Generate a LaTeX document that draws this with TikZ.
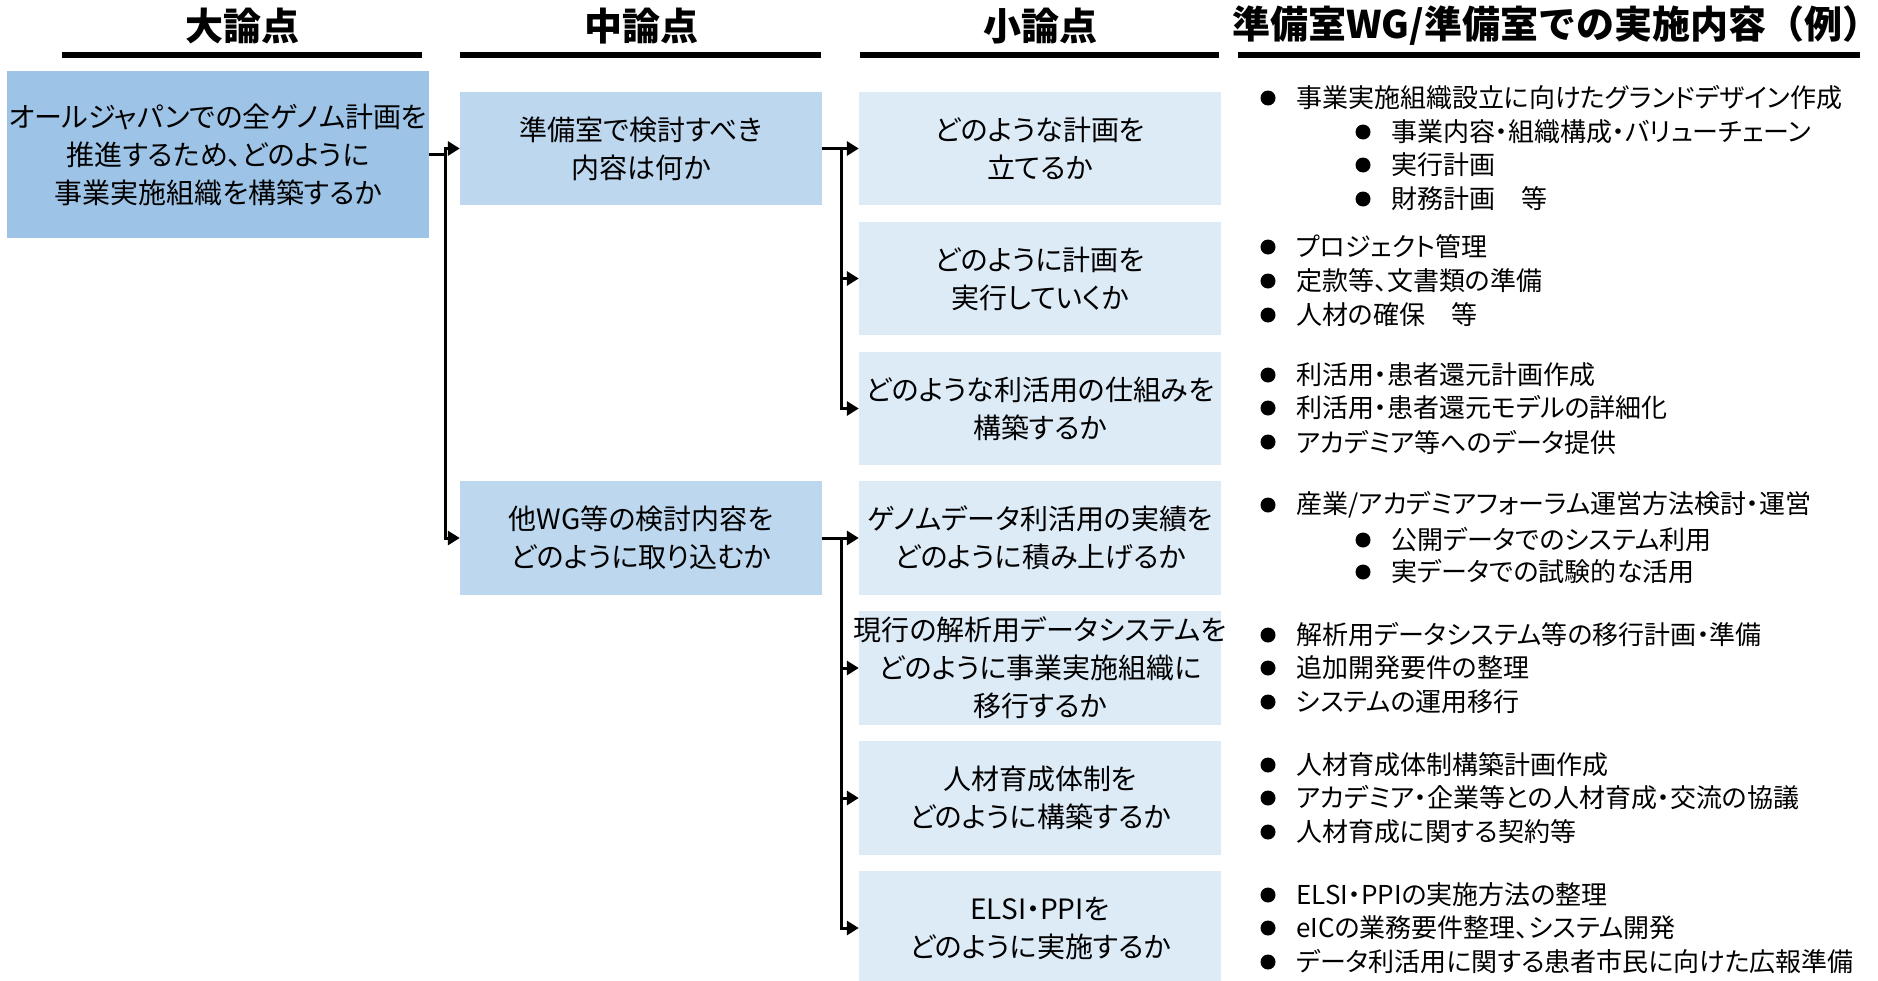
\documentclass[tikz,border=0pt]{standalone}
\usepackage{fontspec}
\setmainfont{Noto Sans CJK JP}[RawFeature=+palt]
\newfontfamily\hdfont{Noto Sans CJK JP}
\usetikzlibrary{arrows.meta}
\definecolor{bDark}{HTML}{9DC3E6}
\definecolor{bMid}{HTML}{BDD7EE}
\definecolor{bLight}{HTML}{DDEBF7}
\newcommand{\ctrline}[1]{\makebox[362pt][c]{#1}}
\begin{document}
\begin{tikzpicture}[x=1pt,y=-1pt,
  hdr/.style={font=\hdfont\bfseries\fontsize{38}{42}\selectfont, inner sep=0},
  hline/.style={line width=6pt},
  box/.style={inner sep=0, minimum width=362pt, minimum height=113.5pt, align=center, font=\fontsize{28}{38}\selectfont},
  bigbox/.style={box, fill=bDark, minimum width=422pt, minimum height=167pt},
  midbox/.style={box, fill=bMid},
  smallbox/.style={box, fill=bLight},
  conn/.style={line width=3pt},
  arr/.style={conn, -{Triangle[length=12pt,width=14pt]}},
  item/.style={anchor=west, inner sep=0, font=\fontsize{26}{30}\selectfont},
  dot/.style={circle, fill=black, inner sep=0, minimum size=15pt},
]
\useasboundingbox (0,0) rectangle (1878,980);

% headers
\node[hdr] (h1) at (242,26) {大論点};
\node[hdr] (h2) at (641,26) {中論点};
\node[hdr] (h3) at (1040,26) {小論点};
\node[hdr] (h4) at (1556,26) {準備室WG/準備室での実施内容（例）};
\draw[hline] (62,55) -- (422,55);
\draw[hline] (460,55) -- (821,55);
\draw[hline] (860,55) -- (1219,55);
\draw[hline] (1238,55) -- (1860,55);

% boxes
\node[bigbox] (dai) at (218,154.5) {オールジャパンでの全ゲノム計画を\\推進するため、どのように\\事業実施組織を構築するか};
\node[midbox] (chu1) at (641,148.5) {準備室で検討すべき\\内容は何か};
\node[midbox] (chu2) at (641,538) {他WG等の検討内容を\\どのように取り込むか};

\node[smallbox] (s1) at (1040,148.5) {どのような計画を\\立てるか};
\node[smallbox] (s2) at (1040,278.5) {どのように計画を\\実行していくか};
\node[smallbox] (s3) at (1040,408.5) {どのような利活用の仕組みを\\構築するか};
\node[smallbox] (s4) at (1040,538) {ゲノムデータ利活用の実績を\\どのように積み上げるか};
\node[smallbox] (s5) at (1040,668) {\ctrline{現行の解析用データシステムを}\\\ctrline{どのように事業実施組織に}\\\ctrline{移行するか}};
\node[smallbox] (s6) at (1040,798) {人材育成体制を\\どのように構築するか};
\node[smallbox] (s7) at (1040,928) {ELSI・PPIを\\どのように実施するか};

% connectors
\draw[conn] (dai.east) -- ++(16,0) coordinate (j0);
\draw[arr] (j0) |- (chu1.west);
\draw[arr] (j0) |- (chu2.west);
\draw[conn] (chu1.east) -- ++(19,0) coordinate (j1);
\foreach \s in {s1,s2,s3} \draw[arr] (j1) |- (\s.west);
\draw[conn] (chu2.east) -- ++(19,0) coordinate (j2);
\foreach \s in {s4,s5,s6,s7} \draw[arr] (j2) |- (\s.west);

% right column
\node[dot] (d1) at (1268,98) {};  \node[item] (t1) at (1296,98) {事業実施組織設立に向けたグランドデザイン作成};
\node[dot] (d2) at (1363,132) {}; \node[item] (t2) at (1391,132) {事業内容・組織構成・バリューチェーン};
\node[dot] (d3) at (1363,165) {}; \node[item] (t3) at (1391,165) {実行計画};
\node[dot] (d4) at (1363,199) {}; \node[item] (t4) at (1391,199) {財務計画　等};

\node[dot] (d5) at (1268,247) {}; \node[item] (t5) at (1296,247) {プロジェクト管理};
\node[dot] (d6) at (1268,281) {}; \node[item] (t6) at (1296,281) {定款等、文書類の準備};
\node[dot] (d7) at (1268,315) {}; \node[item] (t7) at (1296,315) {人材の確保　等};

\node[dot] (d8) at (1268,375) {}; \node[item] (t8) at (1296,375) {利活用・患者還元計画作成};
\node[dot] (d9) at (1268,408) {}; \node[item] (t9) at (1296,408) {利活用・患者還元モデルの詳細化};
\node[dot] (d10) at (1268,442) {}; \node[item] (t10) at (1296,442) {アカデミア等へのデータ提供};

\node[dot] (d11) at (1268,505) {}; \node[item] (t11) at (1296,505) {産業/アカデミアフォーラム運営方法検討・運営};
\node[dot] (d12) at (1363,540) {}; \node[item] (t12) at (1391,540) {公開データでのシステム利用};
\node[dot] (d13) at (1363,572) {}; \node[item] (t13) at (1391,572) {実データでの試験的な活用};

\node[dot] (d14) at (1268,635) {}; \node[item] (t14) at (1296,635) {解析用データシステム等の移行計画・準備};
\node[dot] (d15) at (1268,668) {}; \node[item] (t15) at (1296,668) {追加開発要件の整理};
\node[dot] (d16) at (1268,702) {}; \node[item] (t16) at (1296,702) {システムの運用移行};

\node[dot] (d17) at (1268,765) {}; \node[item] (t17) at (1296,765) {人材育成体制構築計画作成};
\node[dot] (d18) at (1268,798) {}; \node[item] (t18) at (1296,798) {アカデミア・企業等との人材育成・交流の協議};
\node[dot] (d19) at (1268,832) {}; \node[item] (t19) at (1296,832) {人材育成に関する契約等};

\node[dot] (d20) at (1268,895) {}; \node[item] (t20) at (1296,895) {ELSI・PPIの実施方法の整理};
\node[dot] (d21) at (1268,928) {}; \node[item] (t21) at (1296,928) {eICの業務要件整理、システム開発};
\node[dot] (d22) at (1268,962) {}; \node[item] (t22) at (1296,962) {データ利活用に関する患者市民に向けた広報準備};
\end{tikzpicture}
\end{document}
